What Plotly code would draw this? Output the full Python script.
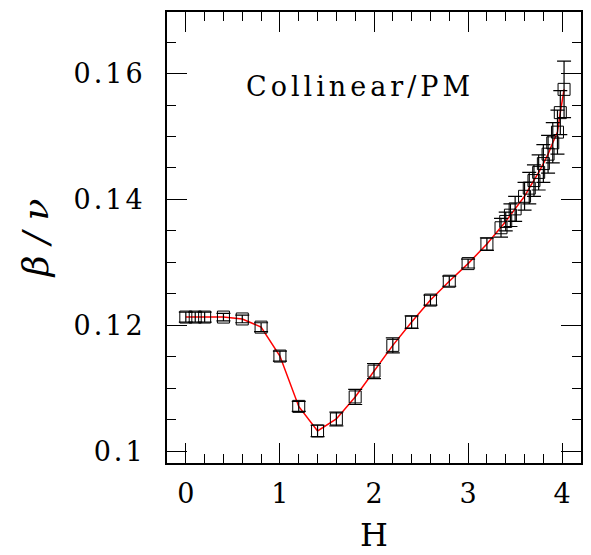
import plotly.graph_objects as go

H = [0.0, 0.1, 0.2, 0.4, 0.6, 0.8, 1.0, 1.2, 1.4, 1.6, 1.8, 2.0, 2.2, 2.4, 2.6, 2.8, 3.0,
     3.2, 3.35, 3.4, 3.45, 3.5, 3.6, 3.65, 3.7, 3.75, 3.8, 3.85, 3.9, 3.95, 3.98, 4.02]
beta_nu = [0.1213, 0.1213, 0.1213, 0.1213, 0.1210, 0.1197, 0.1151, 0.1071, 0.1032, 0.1051,
           0.1086, 0.1127, 0.1168, 0.1205, 0.1240, 0.1270, 0.1298,
           0.1329, 0.1355, 0.1365, 0.1375, 0.1385, 0.1405, 0.1418, 0.1430, 0.1443,
           0.1457, 0.1472, 0.1490, 0.1507, 0.1538, 0.1575]
err = [0.0008, 0.0008, 0.0008, 0.0006, 0.0006, 0.0007, 0.0008, 0.0008, 0.0009, 0.0011,
       0.0012, 0.0012, 0.0012, 0.0010, 0.0008, 0.0008, 0.0007,
       0.0010, 0.0015, 0.0015, 0.0018, 0.0020, 0.0022, 0.0025, 0.0025, 0.0028,
       0.0030, 0.0030, 0.0032, 0.0035, 0.0035, 0.0045]

x_ticks = [0, 1, 2, 3, 4]
x_ticktext = ["0", "1", "2", "3", "4"]
y_ticks = [0.10, 0.12, 0.14, 0.16]
y_ticktext = ["0.1", "0.12", "0.14", "0.16"]
label_text = "Collinear/PM"

FONT = "DejaVu Serif"


def spaced(s, px):
    return f'<span style="letter-spacing:{px}px">{s}</span>'


fig = go.Figure()
fig.add_trace(go.Scatter(
    x=H, y=beta_nu, mode="lines",
    line=dict(color="red", width=1.5),
    showlegend=False, hoverinfo="skip"))
fig.add_trace(go.Scatter(
    x=H, y=beta_nu, mode="markers",
    marker=dict(symbol="square-open", size=12, color="black", line=dict(width=1, color="black")),
    error_y=dict(type="data", array=err, visible=True, color="black", thickness=1.2, width=7),
    showlegend=False))

fig.add_annotation(x=1.85, y=0.1579, text=spaced(label_text, 4), showarrow=False,
                   font=dict(family=FONT, size=27, color="black"))

axis_common = dict(
    showline=True, linecolor="black", linewidth=2, mirror="allticks",
    ticks="inside", ticklen=20, tickwidth=1.2, tickcolor="black",
    showgrid=False, zeroline=False,
    tickfont=dict(family=FONT, size=27, color="black"),
)

fig.update_xaxes(range=[-0.2, 4.2], tickvals=x_ticks, ticktext=x_ticktext,
                 ticklabelstandoff=6,
                 minor=dict(dtick=0.2, ticklen=9, tickwidth=1.2, tickcolor="black", ticks="inside"),
                 title=dict(text="H", font=dict(family=FONT, size=32, color="black"), standoff=15),
                 **axis_common)
fig.update_yaxes(range=[0.0981, 0.1698], tickvals=y_ticks,
                 ticktext=[spaced(t, 3) for t in y_ticktext],
                 ticklabelstandoff=14,
                 minor=dict(dtick=0.005, tick0=0.1, ticklen=9, tickwidth=1.2, tickcolor="black", ticks="inside"),
                 title=dict(text="<i>β / ν</i>", font=dict(family=FONT, size=36, color="black"), standoff=14),
                 **axis_common)

fig.update_layout(
    width=591, height=555,
    margin=dict(l=167, r=8, t=12, b=91),
    paper_bgcolor="white", plot_bgcolor="white",
)

fig.write_html("out.html")
